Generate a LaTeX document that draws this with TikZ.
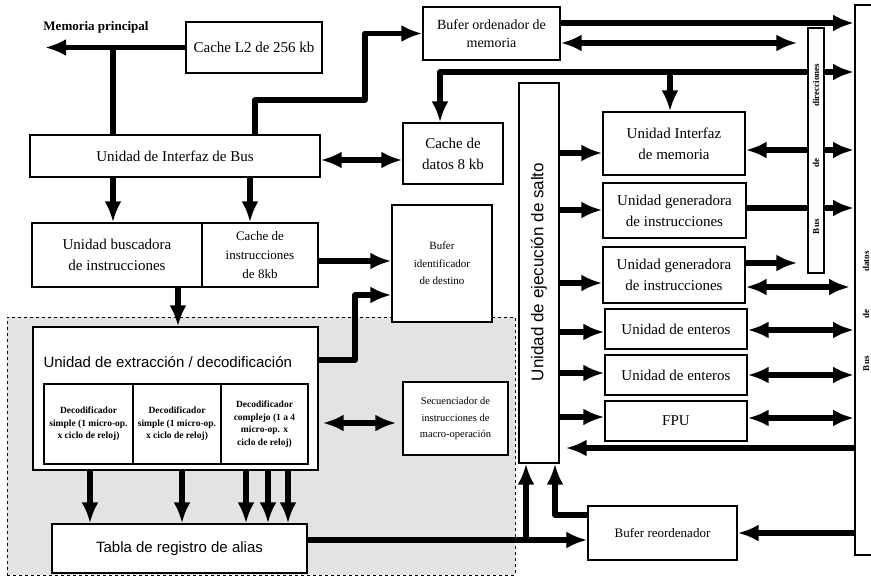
\documentclass[tikz,border=0pt]{standalone}
\usepackage{fontspec}
\setmainfont{Liberation Serif}
\setsansfont{Liberation Sans}
\usetikzlibrary{arrows.meta}
\pgfdeclarelayer{back}
\pgfdeclarelayer{wires}
\pgfsetlayers{back,wires,main}

\begin{document}
\begin{tikzpicture}[x=1pt,y=-1pt,
  box/.style={draw, line width=1.3pt, fill=white, align=center, inner sep=1pt,
              font=\fontsize{15}{21}\selectfont},
  dec/.style={draw, line width=1.1pt, fill=white, align=center, inner sep=1pt,
              font=\fontsize{9.5}{12.5}\selectfont\bfseries},
  small/.style={box, font=\fontsize{10.5}{16.5}\selectfont},
  bus/.style={line width=5.5pt, line join=round},
  >={Latex[length=21pt,width=17pt]}
]
\useasboundingbox (0,0) rectangle (871,578);

% ---------- shaded front-end zone ----------
\begin{pgfonlayer}{back}
  \node[draw, line width=1pt, dash pattern=on 3pt off 3pt, fill=black!11,
        minimum width=508, minimum height=258, inner sep=0pt] (ZONE) at (261,446) {};
\end{pgfonlayer}

% ---------- blocks ----------
\node[font=\fontsize{13}{13}\selectfont\bfseries] (MEM) at (96,27) {Memoria principal};
\node[box, minimum width=136, minimum height=51] (L2) at (254,47.5) {Cache L2 de 256 kb};
\node[box, minimum width=290, minimum height=42] (BIU) at (175,156) {Unidad de Interfaz de Bus};
\node[box, minimum width=137, minimum height=53, font=\fontsize{14}{18}\selectfont] (ROB) at (491.5,33.5) {Bufer ordenador de\\memoria};
\node[box, minimum width=100, minimum height=61] (DCACHE) at (453,153.5) {Cache de\\datos 8 kb};

\node[box, minimum width=40, minimum height=380] (SALTO) at (539,273) {};
\node[rotate=90, font=\sffamily\fontsize{17}{17}\selectfont] (SALTOT) at (539,272) {Unidad de ejecución de salto};

\node[box, minimum width=142, minimum height=63] (MIU) at (674,143.5) {Unidad Interfaz\\de memoria};
\node[box, minimum width=143, minimum height=55] (GEN1) at (674.5,210.5) {Unidad generadora\\de instrucciones};
\node[box, minimum width=142, minimum height=56] (GEN2) at (674,275) {Unidad generadora\\de instrucciones};
\node[box, minimum width=142, minimum height=40] (INT1) at (676,329) {Unidad de enteros};
\node[box, minimum width=142, minimum height=40] (INT2) at (676,375) {Unidad de enteros};
\node[box, minimum width=142, minimum height=40] (FPU) at (676,421) {FPU};

\node[box, minimum width=16, minimum height=245] (BD) at (816,150.5) {};
\node[rotate=90, font=\fontsize{9}{9}\selectfont\bfseries] (BDT) at (816,149)
  {\makebox[170pt]{Bus\hfill de\hfill direcciones}};

\coordinate (dbtop) at (855,5);
\coordinate (dbbot) at (855,555);
\coordinate (dbx) at (854,0);
\draw[line width=1.5pt] (871,5) -- (dbtop) -- (dbbot) -- (871,555);
\node[rotate=90, font=\fontsize{9}{9}\selectfont\bfseries] (DBT) at (866,311)
  {\makebox[120pt]{Bus\hfill de\hfill datos}};

\node[box, minimum width=170, minimum height=64] (SRCH) at (117,255) {Unidad buscadora\\de instrucciones};
\node[box, minimum width=116, minimum height=64, font=\fontsize{13}{19}\selectfont] (ICACHE) at (260,255) {Cache de\\instrucciones\\de 8kb};
\node[small, minimum width=100, minimum height=117, font=\fontsize{11}{17.5}\selectfont] (BTB) at (442,263.5) {Bufer\\identificador\\de destino};

\node[box, minimum width=285, minimum height=143] (EXTR) at (175.5,398.5) {};
\node[anchor=west, font=\sffamily\fontsize{15}{15}\selectfont] (EXTRT) at (40,362)
  {Unidad de extracción / decodificación};
\node[dec, minimum width=89, minimum height=80] (D1) at (88.5,424) {Decodificador\\simple (1 micro-op.\\x ciclo de reloj)};
\node[dec, minimum width=88, minimum height=80] (D2) at (177,424) {Decodificador\\simple (1 micro-op.\\x ciclo de reloj)};
\node[dec, minimum width=87, minimum height=80] (D3) at (264.5,424) {Decodificador\\complejo (1 a 4\\micro-op. x\\ciclo de reloj)};

\node[small, minimum width=105, minimum height=73] (SEQ) at (455.5,418.5) {Secuenciador de\\instrucciones de\\macro-operación};
\node[box, minimum width=255, minimum height=49, font=\sffamily\fontsize{15}{15}\selectfont] (TABLA) at (179.5,548.5) {Tabla de registro de alias};
\node[box, minimum width=149, minimum height=54, font=\fontsize{13}{13}\selectfont] (REORD) at (662.5,533) {Bufer reordenador};

% ---------- connectors ----------
\begin{pgfonlayer}{wires}
  % memory side
  \coordinate (mem) at (45,47.5);
  \coordinate (j1) at (113,47.5);
  \draw[bus,->] (L2.west) -- (mem);
  \draw[bus] (j1) -- (j1 |- BIU.north);

  \coordinate (k1) at (255,100);
  \coordinate (k2) at (365,100);
  \draw[bus,->] (k1 |- BIU.north) -- (k1) -- (k2) |- (ROB.west);

  \coordinate (xa) at (113,0);
  \coordinate (xb) at (250,0);
  \draw[bus,->] (BIU.south -| xa) -- (SRCH.north -| xa);
  \draw[bus,->] (BIU.south -| xb) -- (ICACHE.north -| xb);
  \draw[bus,<->] (BIU.east |- 0,160) -- (DCACHE.west |- 0,160);

  % order buffer and address lines
  \draw[bus,->] (ROB.east |- 0,23) -- (dbx |- 0,23);
  \draw[bus,<->,shorten >=10pt] (ROB.east |- 0,43) -- (BD.west |- 0,43);
  \coordinate (t1) at (440,72);
  \coordinate (t2) at (670,72);
  \draw[bus,<->] (dbx |- t1) -- (t1) -- (DCACHE.north -| t1);
  \draw[bus,->] (t2) -- (MIU.north -| t2);

  % branch unit to execution units
  \draw[bus,->] (SALTO.east |- 0,153) -- (MIU.west |- 0,153);
  \draw[bus,->] (SALTO.east |- 0,210) -- (GEN1.west |- 0,210);
  \draw[bus,->] (SALTO.east |- 0,283) -- (GEN2.west |- 0,283);
  \draw[bus,->] (SALTO.east |- 0,332) -- (INT1.west |- 0,332);
  \draw[bus,->] (SALTO.east |- 0,373) -- (INT2.west |- 0,373);
  \draw[bus,->] (SALTO.east |- 0,417) -- (FPU.west |- 0,417);

  % execution units to buses
  \draw[bus,<->] (MIU.east |- 0,150) -- (dbx |- 0,150);
  \draw[bus,->] (GEN1.east |- 0,208) -- (dbx |- 0,208);
  \draw[bus,->,shorten >=10pt] (GEN2.east |- 0,263) -- (BD.west |- 0,263);
  \draw[bus,<->,shorten >=4pt] (GEN2.east |- 0,287) -- (dbx |- 0,287);
  \draw[bus,<->] (INT1.east |- 0,330) -- (dbx |- 0,330);
  \draw[bus,<->] (INT2.east |- 0,375) -- (dbx |- 0,375);
  \draw[bus,<->] (FPU.east |- 0,418) -- (dbx |- 0,418);
  \draw[bus,->,shorten >=6pt] (dbx |- 0,448) -- (SALTO.east |- 0,448);
  \draw[bus,->] (dbx |- REORD.east) -- (REORD.east);

  % front end
  \draw[bus,->] (ICACHE.east |- 0,261) -- (BTB.west |- 0,261);
  \coordinate (m1) at (355,360);
  \coordinate (m2) at (355,295);
  \draw[bus,->] (EXTR.east |- m1) -- (m1) -- (m2) -- (BTB.west |- m2);
  \coordinate (xc) at (178,0);
  \draw[bus,->] (SRCH.south -| xc) -- (EXTR.north -| xc);
  \draw[bus,<->,shorten <=4pt,shorten >=6pt] (EXTR.east |- 0,423) -- (SEQ.west |- 0,423);
  \foreach \xx in {90,182,246,268,288}
    \draw[bus,->] (EXTR.south -| \xx,0) -- (TABLA.north -| \xx,0);

  % reorder buffer
  \coordinate (b1) at (526,540);
  \coordinate (b2) at (555,515);
  \draw[bus,->] (TABLA.east |- b1) -- (REORD.west |- b1);
  \draw[bus,->] (b1) -- (SALTO.south -| b1);
  \draw[bus,->] (REORD.west |- b2) -- (b2) -- (SALTO.south -| b2);
\end{pgfonlayer}
\end{tikzpicture}
\end{document}
